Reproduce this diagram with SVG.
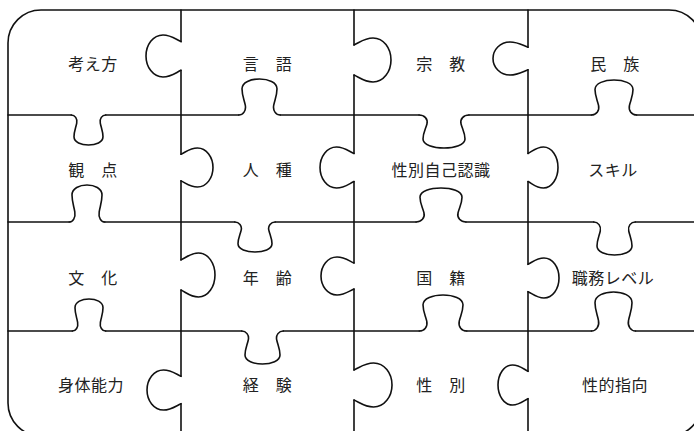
<svg xmlns="http://www.w3.org/2000/svg" width="694" height="431" viewBox="0 0 694 431">
<style>
.ln{fill:none;stroke:#111;stroke-width:1.6;stroke-linecap:round;stroke-linejoin:round}
.tab{vector-effect:non-scaling-stroke}
.t{font-family:"Noto Sans CJK JP","Noto Sans CJK SC",sans-serif;font-size:16px;fill:#222;text-anchor:middle;dominant-baseline:central;letter-spacing:0.5px}
</style>
<defs>
<path id="th" class="ln tab" d="M-3,0 C1,0 4,4 3,9 C2,14 0,18 0,24 C0,30 8,33 16,33 C24,33 32,30 32,24 C32,18 30,14 29,9 C28,4 31,0 35,0"/>
<path id="tv" class="ln tab" d="M0,0 C-2,5 -6,10 -6,18 C-6,28 3,35 13,35 C23,35 32,28 32,18 C32,10 28,5 26,0"/>
</defs>
<rect x="0" y="0" width="694" height="431" fill="#fff"/>
<g id="outlines" class="ln">
<rect x="8" y="10" width="694" height="426" rx="33" ry="33"/>
<path d="M8,115H71.3M105.7,115H238.7M280.3,115H419.1M468.9,115H591.4M636.6,115H702"/>
<path d="M8,222H69.2M104.8,222H234.8M275.2,222H416.1M465.9,222H593.7M635.3,222H702"/>
<path d="M8,331H72.4M105.6,331H241.7M283.3,331H419.3M466.8,331H591.5M635.5,331H702"/>
<path d="M181,10V41.6M181,70.4V154.2M181,180.9V259.9M181,290V376.3M181,403.7V436"/>
<path d="M354,10V44.9M354,75V153.5M354,181.5V263M354,289V369.9M354,400V436"/>
<path d="M528,10V47.2M528,69.8V153.5M528,181.5V264.3M528,291.7V371.3M528,398.7V436"/>
<use href="#th" transform="matrix(0.906 0 0 0.909 74 115)"/>
<use href="#th" transform="matrix(1.094 0 0 -1.091 242 115)"/>
<use href="#th" transform="matrix(1.3125 0 0 1 423 115)"/>
<use href="#th" transform="matrix(1.1875 0 0 -1.061 595 115)"/>
<use href="#th" transform="matrix(0.9375 0 0 -1.121 72 222)"/>
<use href="#th" transform="matrix(1.0625 0 0 0.909 238 222)"/>
<use href="#th" transform="matrix(1.3125 0 0 -1.03 420 222)"/>
<use href="#th" transform="matrix(1.094 0 0 1 597 222)"/>
<use href="#th" transform="matrix(0.875 0 0 -0.97 75 331)"/>
<use href="#th" transform="matrix(1.094 0 0 1 245 331)"/>
<use href="#th" transform="matrix(1.25 0 0 -1.091 423 331)"/>
<use href="#th" transform="matrix(1.156 0 0 -1.182 595 331)"/>
<use href="#tv" transform="matrix(0 1.105 -1 0 181 41.6)"/>
<use href="#tv" transform="matrix(0 1.026 0.914 0 181 154.2)"/>
<use href="#tv" transform="matrix(0 1.158 0.971 0 181 259.9)"/>
<use href="#tv" transform="matrix(0 1.053 -0.971 0 181 376.3)"/>
<use href="#tv" transform="matrix(0 1.158 1.057 0 354 44.9)"/>
<use href="#tv" transform="matrix(0 1.079 -0.971 0 354 153.5)"/>
<use href="#tv" transform="matrix(0 1 -0.943 0 354 263)"/>
<use href="#tv" transform="matrix(0 1.158 1.086 0 354 369.9)"/>
<use href="#tv" transform="matrix(0 0.868 -1 0 528 47.2)"/>
<use href="#tv" transform="matrix(0 1.079 0.857 0 528 153.5)"/>
<use href="#tv" transform="matrix(0 1.053 0.886 0 528 264.3)"/>
<use href="#tv" transform="matrix(0 1.053 -0.857 0 528 371.3)"/>
</g>
<g id="p-kangaekata"><text class="t" x="93" y="62.5">考え方</text></g>
<g id="p-gengo"><text class="t" x="267.5" y="62.5">言　語</text></g>
<g id="p-shukyo"><text class="t" x="441" y="62.5">宗　教</text></g>
<g id="p-minzoku"><text class="t" x="615" y="62.5">民　族</text></g>
<g id="p-kanten"><text class="t" x="93" y="168.5">観　点</text></g>
<g id="p-jinshu"><text class="t" x="267.5" y="168.5">人　種</text></g>
<g id="p-seibetsu-jiko-ninshiki"><text class="t" x="441" y="168.5">性別自己認識</text></g>
<g id="p-skill"><text class="t" x="613" y="168.5">スキル</text></g>
<g id="p-bunka"><text class="t" x="93" y="276.5">文　化</text></g>
<g id="p-nenrei"><text class="t" x="267.5" y="276.5">年　齢</text></g>
<g id="p-kokuseki"><text class="t" x="441" y="276.5">国　籍</text></g>
<g id="p-shokumu-level"><text class="t" x="613" y="276.5">職務レベル</text></g>
<g id="p-shintai-noryoku"><text class="t" x="91" y="383.5">身体能力</text></g>
<g id="p-keiken"><text class="t" x="267.5" y="383.5">経　験</text></g>
<g id="p-seibetsu"><text class="t" x="441" y="383.5">性　別</text></g>
<g id="p-seiteki-shiko"><text class="t" x="615" y="383.5">性的指向</text></g>
</svg>
